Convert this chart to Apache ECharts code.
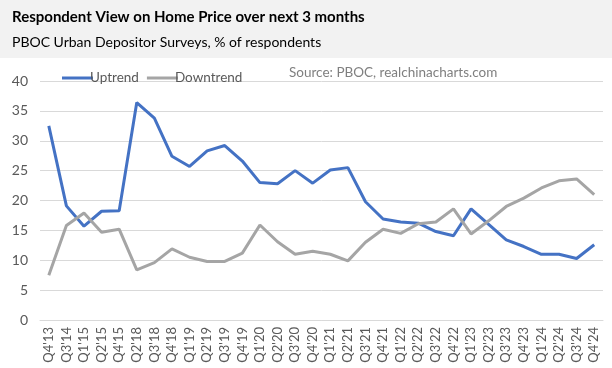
<!DOCTYPE html>
<html><head><meta charset="utf-8">
<script src="https://cdn.jsdelivr.net/npm/echarts@6/dist/echarts.min.js"></script>
<style>html,body{margin:0;padding:0;background:#fff}#c{width:612px;height:368px}</style>
</head><body><div id="c"></div>
<script>
const categories = ["Q4'13","Q3'14","Q1'15","Q2'15","Q4'15","Q2'18","Q3'18","Q4'18","Q1'19","Q2'19","Q3'19","Q4'19","Q1'20","Q2'20","Q3'20","Q4'20","Q1'21","Q2'21","Q3'21","Q4'21","Q1'22","Q2'22","Q3'22","Q4'22","Q1'23","Q2'23","Q3'23","Q4'23","Q1'24","Q2'24","Q3'24","Q4'24"];
const uptrend = [32.5,19.1,15.7,18.2,18.3,36.4,33.8,27.4,25.7,28.3,29.2,26.6,23.0,22.8,25.0,22.9,25.1,25.5,19.8,16.9,16.4,16.2,14.8,14.1,18.6,16.0,13.4,12.3,11.0,11.0,10.3,12.6];
const downtrend = [7.5,15.8,17.9,14.7,15.2,8.4,9.6,11.9,10.5,9.8,9.8,11.2,15.9,13.1,11.0,11.5,11.0,9.9,13.0,15.2,14.5,16.1,16.4,18.6,14.4,16.6,19.0,20.4,22.1,23.3,23.6,21.0];
const yTicks = {min:0, max:40, interval:5};

const chart = echarts.init(document.getElementById('c'), null, {renderer:'canvas'});
const font = 'Lato';
chart.setOption({
  animation:false,
  backgroundColor:'#ffffff',
  graphic:[
    {type:'rect', shape:{x:0,y:0,width:612,height:58}, style:{fill:'#f2f2f2'}, z:-10},
    {type:'text', left:12, top:10, style:{text:'Respondent View on Home Price over next 3 months', font:'bold 15px Lato', fill:'#000'}},
    {type:'text', left:12, top:35, style:{text:'PBOC Urban Depositor Surveys, % of respondents', font:'14px Lato', fill:'#000'}},
    {type:'text', left:289, top:66, style:{text:'Source: PBOC, realchinacharts.com', font:'13.5px Lato', fill:'#7f7f7f'}}
  ],
  legend:{
    left:57, top:66, itemWidth:31, itemHeight:3, itemGap:8,
    icon:'rect',
    textStyle:{color:'#595959', fontSize:13.5, fontFamily:font, padding:[0,0,0,-8]},
    data:['Uptrend','Downtrend']
  },
  grid:{left:40, right:9, top:81, bottom:48},
  xAxis:{
    type:'category', data:categories, boundaryGap:true,
    axisLine:{lineStyle:{color:'#d9d9d9'}},
    axisTick:{show:false},
    axisLabel:{interval:0, rotate:90, color:'#595959', fontSize:13, fontFamily:font, margin:7}
  },
  yAxis:{
    type:'value', min:yTicks.min, max:yTicks.max, interval:yTicks.interval,
    axisLine:{show:false}, axisTick:{show:false},
    splitLine:{lineStyle:{color:'#d9d9d9', width:1}},
    axisLabel:{color:'#595959', fontSize:14, fontFamily:font, margin:12}
  },
  series:[
    {name:'Uptrend', type:'line', data:uptrend, symbol:'none', lineStyle:{color:'#4472c4', width:3}, itemStyle:{color:'#4472c4'}},
    {name:'Downtrend', type:'line', data:downtrend, symbol:'none', lineStyle:{color:'#a5a5a5', width:3}, itemStyle:{color:'#a5a5a5'}}
  ]
});
</script></body></html>
